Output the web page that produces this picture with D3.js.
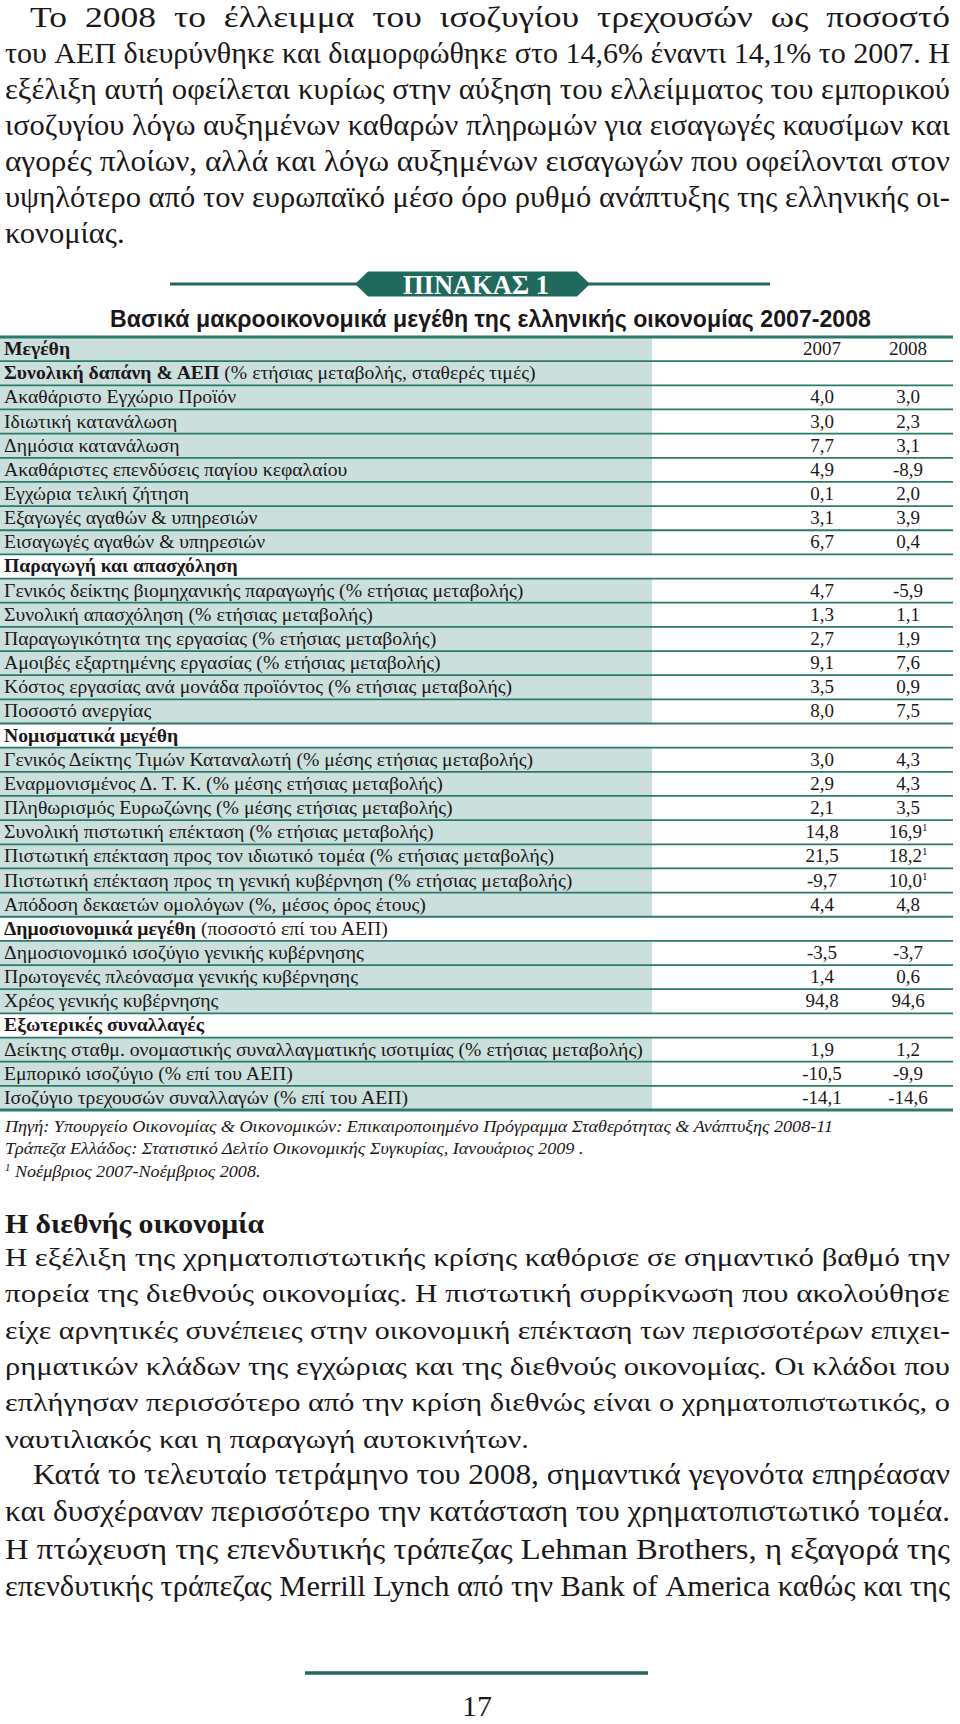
<!DOCTYPE html>
<html lang="el">
<head>
<meta charset="utf-8">
<title>Πίνακας 1</title>
<script src="https://cdn.jsdelivr.net/npm/d3@7"></script>
<style>
  body { margin: 0; background: #fff; }
  svg { display: block; }
</style>
</head>
<body>
<div id="page"></div>
<script>
// ---- text of the page ----
const para1Lines = [
  'Το 2008 το έλλειμμα του ισοζυγίου τρεχουσών ως ποσοστό',
  'του ΑΕΠ διευρύνθηκε και διαμορφώθηκε στο 14,6% έναντι 14,1% το 2007. Η',
  'εξέλιξη αυτή οφείλεται κυρίως στην αύξηση του ελλείμματος του εμπορικού',
  'ισοζυγίου λόγω αυξημένων καθαρών πληρωμών για εισαγωγές καυσίμων και',
  'αγορές πλοίων, αλλά και λόγω αυξημένων εισαγωγών που οφείλονται στον',
  'υψηλότερο από τον ευρωπαϊκό μέσο όρο ρυθμό ανάπτυξης της ελληνικής οι-',
  'κονομίας.'
];
const para2Title = 'Η διεθνής οικονομία';
const para2Lines = [
  'Η εξέλιξη της χρηματοπιστωτικής κρίσης καθόρισε σε σημαντικό βαθμό την',
  'πορεία της διεθνούς οικονομίας. Η πιστωτική συρρίκνωση που ακολούθησε',
  'είχε αρνητικές συνέπειες στην οικονομική επέκταση των περισσοτέρων επιχει-',
  'ρηματικών κλάδων της εγχώριας και της διεθνούς οικονομίας. Οι κλάδοι που',
  'επλήγησαν περισσότερο από την κρίση διεθνώς είναι ο χρηματοπιστωτικός, ο',
  'ναυτιλιακός και η παραγωγή αυτοκινήτων.'
];
const para3Lines = [
  'Κατά το τελευταίο τετράμηνο του 2008, σημαντικά γεγονότα επηρέασαν',
  'και δυσχέραναν περισσότερο την κατάσταση του χρηματοπιστωτικό τομέα.',
  'Η πτώχευση της επενδυτικής τράπεζας Lehman Brothers, η εξαγορά της',
  'επενδυτικής τράπεζας Merrill Lynch από την Bank of America καθώς και της'
];
const pageNumber = '17';

// ---- table data ----
const tableBadge = 'ΠΙΝΑΚΑΣ 1';
const tableTitle = 'Βασικά μακροοικονομικά μεγέθη της ελληνικής οικονομίας 2007-2008';
const headerLabel = 'Μεγέθη';
const years = ['2007', '2008'];
const rowLabels = [
  'Συνολική δαπάνη & ΑΕΠ',
  'Ακαθάριστο Εγχώριο Προϊόν',
  'Ιδιωτική κατανάλωση',
  'Δημόσια κατανάλωση',
  'Ακαθάριστες επενδύσεις παγίου κεφαλαίου',
  'Εγχώρια τελική ζήτηση',
  'Εξαγωγές αγαθών & υπηρεσιών',
  'Εισαγωγές αγαθών & υπηρεσιών',
  'Παραγωγή και απασχόληση',
  'Γενικός δείκτης βιομηχανικής παραγωγής (% ετήσιας μεταβολής)',
  'Συνολική απασχόληση (% ετήσιας μεταβολής)',
  'Παραγωγικότητα της εργασίας (% ετήσιας μεταβολής)',
  'Αμοιβές εξαρτημένης εργασίας (% ετήσιας μεταβολής)',
  'Κόστος εργασίας ανά μονάδα προϊόντος (% ετήσιας μεταβολής)',
  'Ποσοστό ανεργίας',
  'Νομισματικά μεγέθη',
  'Γενικός Δείκτης Τιμών Καταναλωτή (% μέσης ετήσιας μεταβολής)',
  'Εναρμονισμένος Δ. Τ. Κ. (% μέσης ετήσιας μεταβολής)',
  'Πληθωρισμός Ευρωζώνης (% μέσης ετήσιας μεταβολής)',
  'Συνολική πιστωτική επέκταση (% ετήσιας μεταβολής)',
  'Πιστωτική επέκταση προς τον ιδιωτικό τομέα (% ετήσιας μεταβολής)',
  'Πιστωτική επέκταση προς τη γενική κυβέρνηση (% ετήσιας μεταβολής)',
  'Απόδοση δεκαετών ομολόγων (%, μέσος όρος έτους)',
  'Δημοσιονομικά μεγέθη',
  'Δημοσιονομικό ισοζύγιο γενικής κυβέρνησης',
  'Πρωτογενές πλεόνασμα γενικής κυβέρνησης',
  'Χρέος γενικής κυβέρνησης',
  'Εξωτερικές συναλλαγές',
  'Δείκτης σταθμ. ονομαστικής συναλλαγματικής ισοτιμίας (% ετήσιας μεταβολής)',
  'Εμπορικό ισοζύγιο (% επί του ΑΕΠ)',
  'Ισοζύγιο τρεχουσών συναλλαγών (% επί του ΑΕΠ)'
];
// null marks a section heading row
const values2007 = [null, 4.0, 3.0, 7.7, 4.9, 0.1, 3.1, 6.7,
  null, 4.7, 1.3, 2.7, 9.1, 3.5, 8.0,
  null, 3.0, 2.9, 2.1, 14.8, 21.5, -9.7, 4.4,
  null, -3.5, 1.4, 94.8,
  null, 1.9, -10.5, -14.1];
const values2008 = [null, 3.0, 2.3, 3.1, -8.9, 2.0, 3.9, 0.4,
  null, -5.9, 1.1, 1.9, 7.6, 0.9, 7.5,
  null, 4.3, 4.3, 3.5, 16.9, 18.2, 10.0, 4.8,
  null, -3.7, 0.6, 94.6,
  null, 1.2, -9.9, -14.6];
const sectionNotes = {
  'Συνολική δαπάνη & ΑΕΠ': ' (% ετήσιας μεταβολής, σταθερές τιμές)',
  'Δημοσιονομικά μεγέθη': ' (ποσοστό επί του ΑΕΠ)'
};
const footnoted2008 = [
  'Συνολική πιστωτική επέκταση (% ετήσιας μεταβολής)',
  'Πιστωτική επέκταση προς τον ιδιωτικό τομέα (% ετήσιας μεταβολής)',
  'Πιστωτική επέκταση προς τη γενική κυβέρνηση (% ετήσιας μεταβολής)'
];
const sourceLines = [
  'Πηγή: Υπουργείο Οικονομίας & Οικονομικών: Επικαιροποιημένο Πρόγραμμα Σταθερότητας & Ανάπτυξης 2008-11',
  'Τράπεζα Ελλάδος: Στατιστικό Δελτίο Οικονομικής Συγκυρίας, Ιανουάριος 2009 .',
  'Νοέμβριος 2007-Νοέμβριος 2008.'
];

// ---- page setup ----
const W = 960, H = 1724;
const SERIF = "'Liberation Serif', 'DejaVu Serif', serif";
const SANS = "'Liberation Sans', Arial, sans-serif";
const INK = '#1c1819';
const TEAL = '#2b7a6c';
const TEAL_DARK = '#1f6a5d';
const SHADE = '#cbe0dc';

const svg = d3.select('#page').append('svg')
  .attr('width', W)
  .attr('height', H);
svg.append('rect').attr('width', W).attr('height', H).attr('fill', '#fff');

function setFont(sel, f) {
  return sel.attr('font-family', f.family)
    .attr('font-size', f.size)
    .attr('font-weight', f.weight || 'normal')
    .attr('font-style', f.style || 'normal');
}

function textWidth(str, f) {
  const t = setFont(svg.append('text'), f).text(str);
  const w = t.node().getComputedTextLength();
  t.remove();
  return w;
}

// justified paragraph: words placed one by one, glyphs squeezed per line
// within a band around the paragraph's typical squeeze
function drawParagraph(lines, opt) {
  const f = opt.font;
  const space = textWidth('a a', f) - textWidth('aa', f);
  const starts = lines.map((l, i) => i === 0 ? opt.x0 + opt.indent : opt.x0);
  const justify = lines.map((l, i) => i < lines.length - 1 || opt.justifyLast);
  const ratios = lines.map((l, i) => (opt.x1 - starts[i]) / textWidth(l, f));
  const mid = d3.median(ratios.filter((r, i) => justify[i]));
  const slack = opt.slack || 0.06;

  lines.forEach((line, i) => {
    const words = line.split(' ');
    const widths = words.map(w => textWidth(w, f));
    const sx = justify[i]
      ? Math.max(mid * (1 - slack), Math.min(mid * (1 + slack), ratios[i]))
      : mid;
    const avail = (opt.x1 - starts[i]) / sx;
    const gap = justify[i] && words.length > 1
      ? (avail - d3.sum(widths)) / (words.length - 1)
      : space;
    const xs = [];
    let acc = 0;
    widths.forEach(w => { xs.push(acc); acc += w + gap; });

    const lineG = svg.append('g')
      .attr('transform', `translate(${starts[i]},${opt.y0 + i * opt.step}) scale(${sx},1)`);
    setFont(lineG.append('text'), f)
      .attr('fill', INK)
      .selectAll('tspan')
      .data(words)
      .join('tspan')
      .attr('x', (d, j) => xs[j])
      .text(d => d);
  });
}

// ---- paragraph above the table ----
const condensed = { family: SERIF, size: 30 };
drawParagraph(para1Lines, { font: condensed, x0: 5, x1: 950, indent: 25, y0: 27, step: 36, slack: 0.16 });

// ---- table badge ----
const badgeY = 284;
svg.append('line').attr('x1', 170).attr('x2', 360).attr('y1', badgeY).attr('y2', badgeY)
  .attr('stroke', TEAL_DARK).attr('stroke-width', 3);
svg.append('line').attr('x1', 585).attr('x2', 770).attr('y1', badgeY).attr('y2', badgeY)
  .attr('stroke', TEAL_DARK).attr('stroke-width', 3);
const bx0 = 355, bx1 = 590, bh = 12.5, tip = 13;
svg.append('polygon')
  .attr('points', [[bx0, badgeY], [bx0 + tip, badgeY - bh], [bx1 - tip, badgeY - bh],
    [bx1, badgeY], [bx1 - tip, badgeY + bh], [bx0 + tip, badgeY + bh]].map(p => p.join(',')).join(' '))
  .attr('fill', TEAL_DARK);
setFont(svg.append('text'), { family: SERIF, size: 27, weight: 'bold' })
  .attr('x', 476).attr('y', 294)
  .attr('text-anchor', 'middle')
  .attr('fill', '#fff')
  .attr('textLength', 146)
  .attr('lengthAdjust', 'spacingAndGlyphs')
  .text(tableBadge);

// ---- table title ----
setFont(svg.append('text'), { family: SANS, size: 23, weight: 'bold' })
  .attr('x', 110).attr('y', 327)
  .attr('fill', INK)
  .attr('textLength', 761)
  .attr('lengthAdjust', 'spacingAndGlyphs')
  .text(tableTitle);

// ---- table ----
const tableTop = 337, tableBottom = 1110;
const shadeRight = 652;
const rowFont = { family: SERIF, size: 18 };
const boldFont = { family: SERIF, size: 18, weight: 'bold' };
const valueSize = 19;
const locale = d3.formatLocale({ decimal: ',', thousands: '.', grouping: [3], currency: ['', '€'], minus: '-' });
const fmt = locale.format('.1f');

const nRows = rowLabels.length + 1;
const y = d3.scaleBand().domain(d3.range(nRows)).range([tableTop, tableBottom]);
const x = d3.scaleBand().domain(years).range([779, 951]);
const step = y.step();

const isSection = i => i > 0 && values2007[i - 1] === null;
let firstSection = -1;
for (let i = 1; i < nRows; i++) { if (isSection(i)) { firstSection = i; break; } }
const shaded = i => i === 0 || !isSection(i) || i === firstSection;

const table = svg.append('g').attr('class', 'table');

table.selectAll('.shade')
  .data(d3.range(nRows).filter(shaded))
  .join('rect')
  .attr('class', 'shade')
  .attr('x', 0)
  .attr('y', d => y(d))
  .attr('width', shadeRight)
  .attr('height', step)
  .attr('fill', SHADE);

table.selectAll('.rule')
  .data(d3.range(nRows - 1))
  .join('line')
  .attr('class', 'rule')
  .attr('x1', 0).attr('x2', 953)
  .attr('y1', d => y(d) + step)
  .attr('y2', d => y(d) + step)
  .attr('stroke', TEAL)
  .attr('stroke-width', 1.8);

[tableTop, tableBottom].forEach(yy => {
  table.append('line')
    .attr('x1', 0).attr('x2', 953)
    .attr('y1', yy).attr('y2', yy)
    .attr('stroke', TEAL)
    .attr('stroke-width', 3.2);
});

// labels, horizontally stretched to the reference width
const longest = d3.greatest(rowLabels, l => textWidth(l, rowFont));
const labelSx = 639 / textWidth(longest, rowFont);
const baseline = i => y(i) + step / 2 + 6;

const labels = table.append('g').attr('transform', `translate(4,0) scale(${labelSx},1)`);
setFont(labels.append('text'), boldFont)
  .attr('x', 0).attr('y', baseline(0))
  .attr('fill', INK)
  .text(headerLabel);

rowLabels.forEach((label, k) => {
  const i = k + 1;
  const t = setFont(labels.append('text'), rowFont)
    .attr('x', 0).attr('y', baseline(i))
    .attr('fill', INK);
  if (isSection(i)) {
    t.append('tspan').attr('font-weight', 'bold').text(label);
    if (sectionNotes[label]) t.append('tspan').text(sectionNotes[label]);
  } else {
    t.text(label);
  }
});

// year headers
table.selectAll('.year')
  .data(years)
  .join('text')
  .attr('class', 'year')
  .attr('x', d => x(d) + x.bandwidth() / 2)
  .attr('y', baseline(0))
  .attr('text-anchor', 'middle')
  .attr('font-family', SERIF).attr('font-size', valueSize)
  .attr('fill', INK)
  .text(d => d);

// values
const cells = [];
rowLabels.forEach((label, k) => {
  if (values2007[k] === null) return;
  cells.push({ row: k + 1, year: '2007', v: values2007[k], note: false });
  cells.push({ row: k + 1, year: '2008', v: values2008[k], note: footnoted2008.includes(label) });
});

const cellText = table.selectAll('.cell')
  .data(cells)
  .join('text')
  .attr('class', 'cell')
  .attr('x', d => x(d.year) + x.bandwidth() / 2)
  .attr('y', d => baseline(d.row))
  .attr('text-anchor', 'middle')
  .attr('font-family', SERIF).attr('font-size', valueSize)
  .attr('fill', INK);
cellText.append('tspan').text(d => fmt(d.v));
cellText.filter(d => d.note).append('tspan')
  .attr('font-size', 11).attr('dy', -7)
  .text('1');

// ---- source notes ----
const noteFont = { family: SERIF, size: 17, style: 'italic' };
const noteSx = 829 / textWidth(sourceLines[0], noteFont);
const notes = svg.append('g').attr('transform', `translate(5,0) scale(${noteSx},1)`);
sourceLines.forEach((line, i) => {
  const t = setFont(notes.append('text'), noteFont)
    .attr('x', 0).attr('y', 1132 + i * 22.5)
    .attr('fill', INK);
  if (i === sourceLines.length - 1) {
    t.append('tspan').attr('font-size', 10).attr('dy', -6).text('1');
    t.append('tspan').attr('dy', 6).text(' ' + line);
  } else {
    t.text(line);
  }
});

// ---- international economy section ----
setFont(svg.append('text'), { family: SERIF, size: 27, weight: 'bold' })
  .attr('x', 5).attr('y', 1233)
  .attr('fill', INK)
  .attr('textLength', 259)
  .attr('lengthAdjust', 'spacingAndGlyphs')
  .text(para2Title);

drawParagraph(para2Lines, { font: { family: SERIF, size: 26 }, x0: 5, x1: 950, indent: 0, y0: 1266, step: 36.3 });
drawParagraph(para3Lines, { font: condensed, x0: 5, x1: 950, indent: 28, y0: 1484, step: 37.3, justifyLast: true, slack: 0.1 });

// ---- page footer ----
svg.append('line')
  .attr('x1', 305).attr('x2', 648)
  .attr('y1', 1673).attr('y2', 1673)
  .attr('stroke', TEAL_DARK)
  .attr('stroke-width', 3.5);
setFont(svg.append('text'), { family: SERIF, size: 30 })
  .attr('x', 477).attr('y', 1716)
  .attr('text-anchor', 'middle')
  .attr('fill', INK)
  .text(pageNumber);
</script>
</body>
</html>
